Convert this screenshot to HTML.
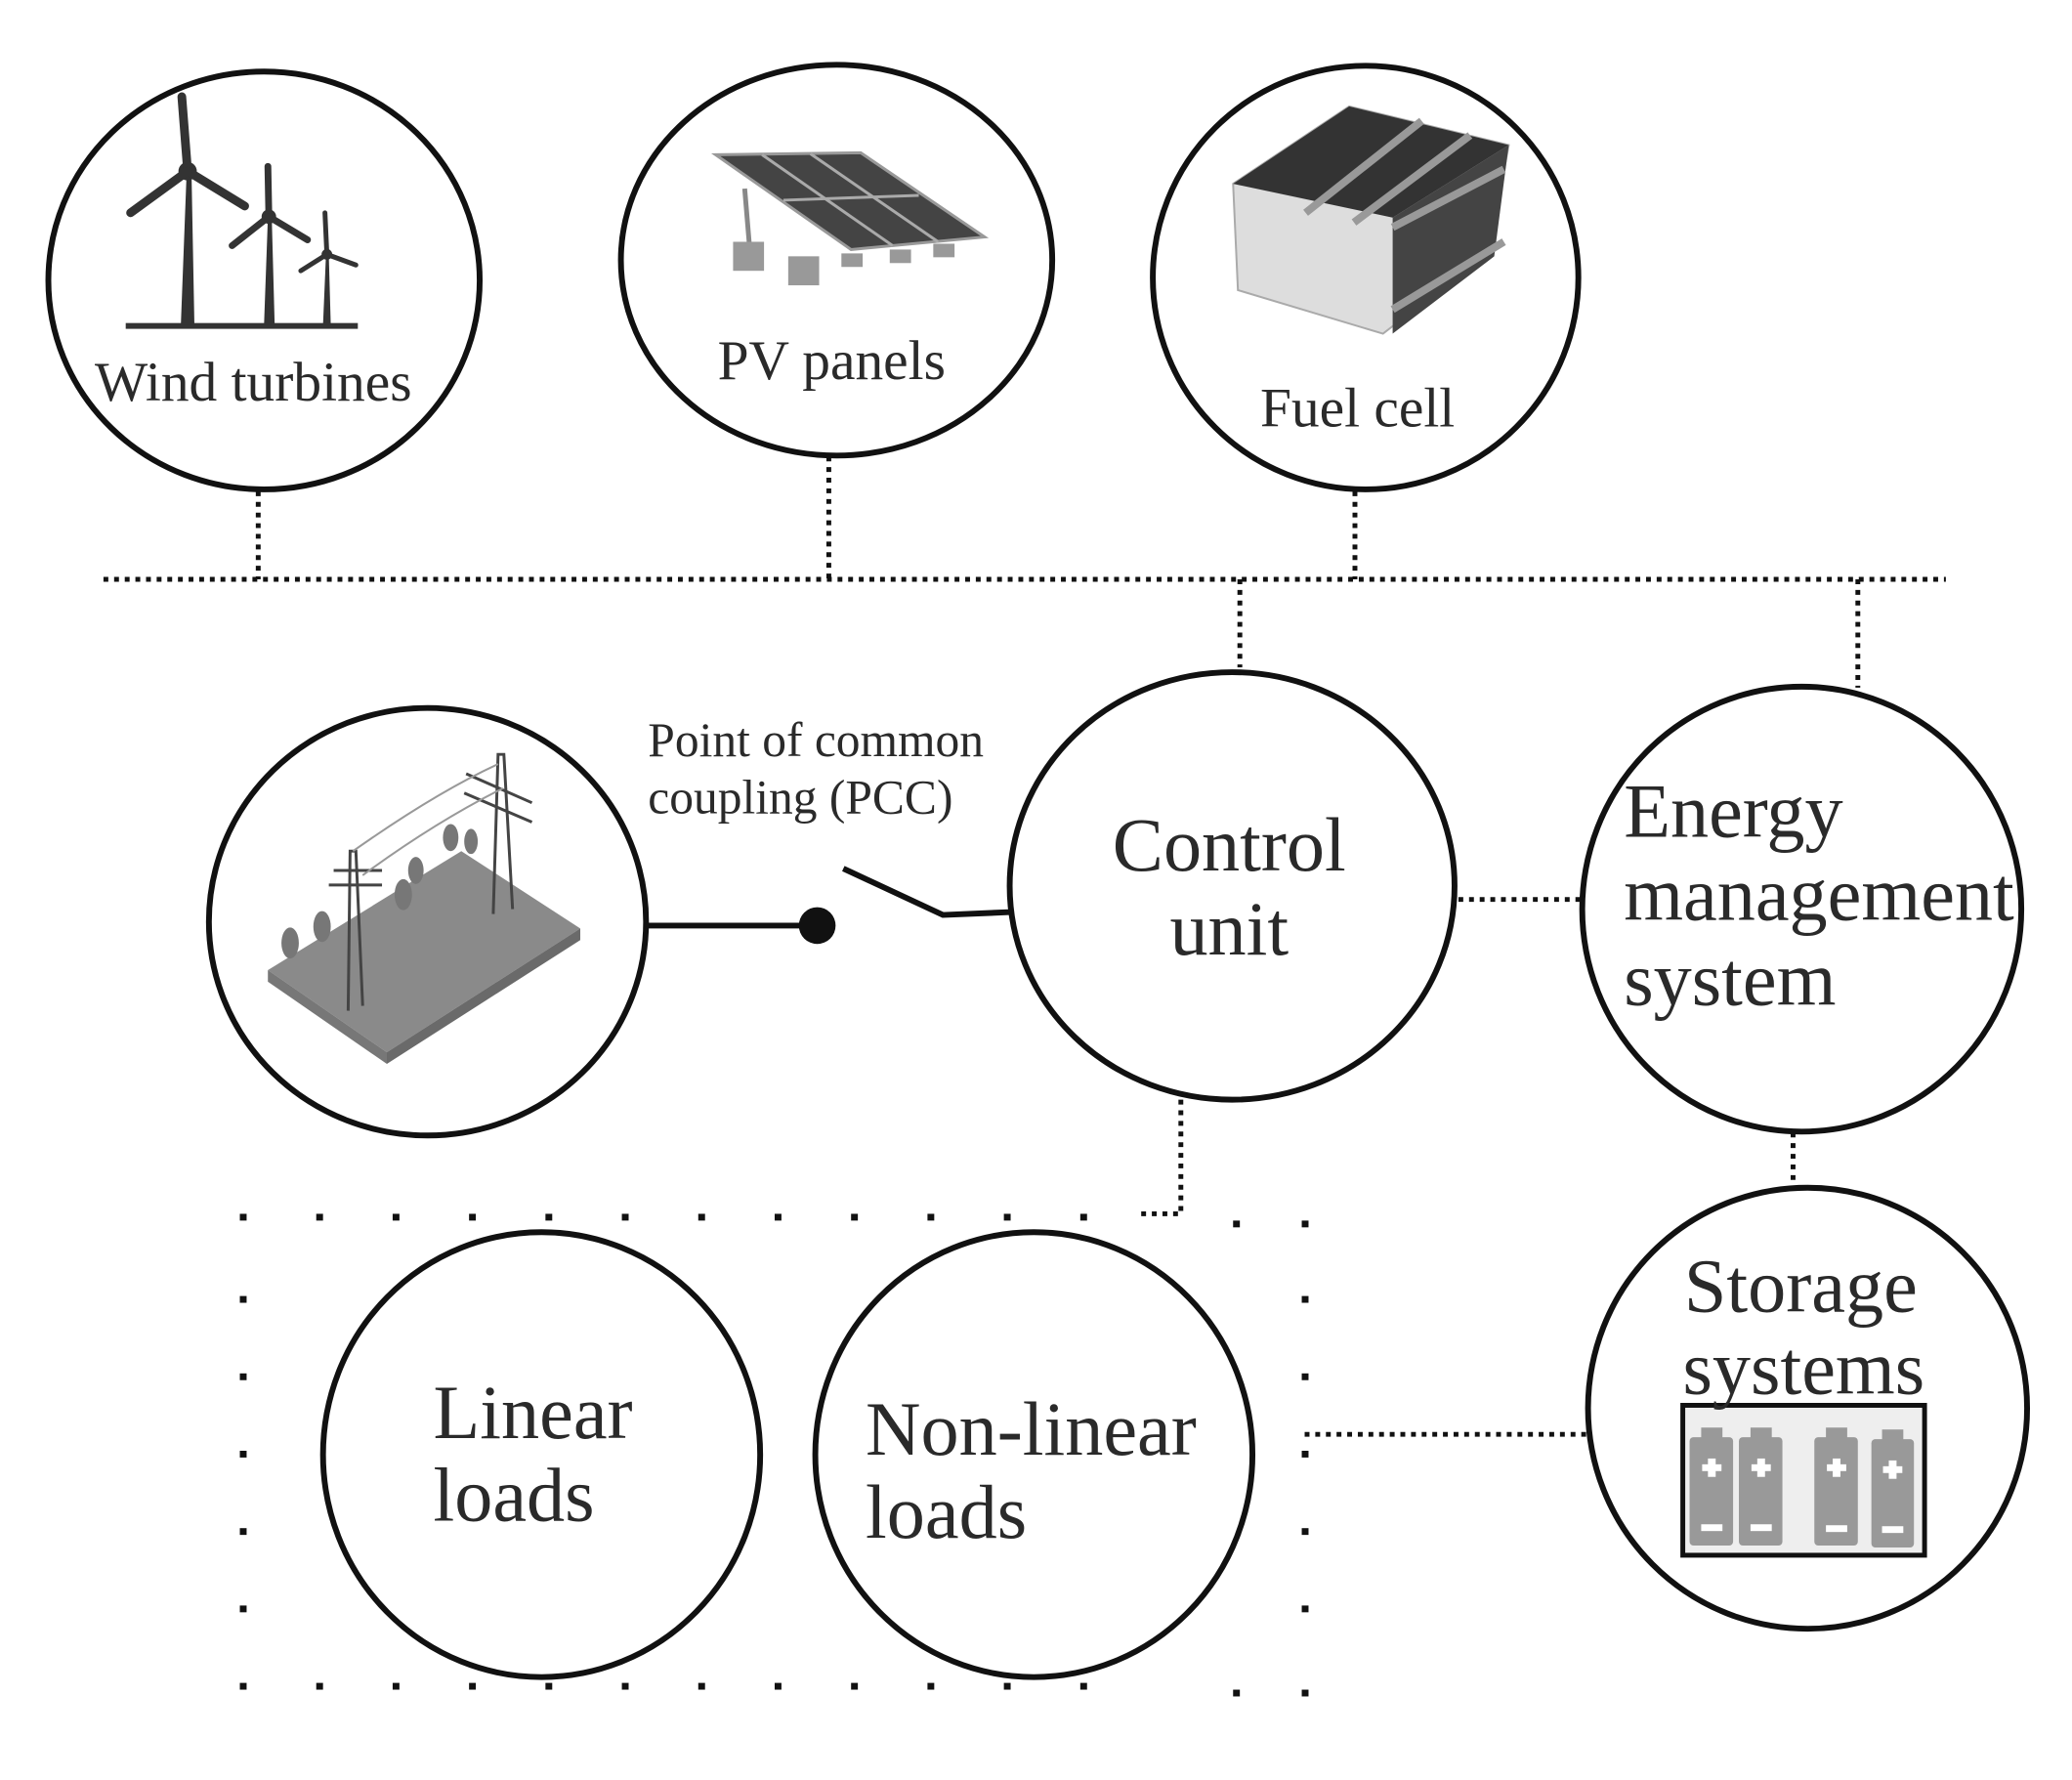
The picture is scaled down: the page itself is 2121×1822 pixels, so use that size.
<!DOCTYPE html>
<html><head><meta charset="utf-8"><style>
html,body{margin:0;padding:0;background:#fff}
svg{display:block}
text{font-family:"Liberation Serif",serif;fill:#2a2a2a}
</style></head><body>
<svg width="2121" height="1822" viewBox="0 0 2121 1822" xmlns="http://www.w3.org/2000/svg">
<g transform="scale(0.99)">
<g stroke="#111" stroke-width="5" fill="none" stroke-dasharray="5 6">
<line x1="107" y1="599" x2="2012" y2="599"/>
<line x1="267" y1="508" x2="267" y2="599"/>
<line x1="857" y1="472" x2="857" y2="599"/>
<line x1="1401" y1="508" x2="1401" y2="599"/>
<line x1="1282" y1="599" x2="1282" y2="690"/>
<line x1="1921" y1="599" x2="1921" y2="711"/>
<line x1="1508" y1="930" x2="1636" y2="930"/>
<line x1="1854" y1="1171" x2="1854" y2="1226"/>
<line x1="1349" y1="1483" x2="1643" y2="1483"/>
<polyline points="1221,1137 1221,1255 1180,1255"/>
</g>
<g fill="#111">
<g id="row">
<rect x="248" y="1255" width="7" height="7"/><rect x="327" y="1255" width="7" height="7"/><rect x="406" y="1255" width="7" height="7"/><rect x="485" y="1255" width="7" height="7"/><rect x="564" y="1255" width="7" height="7"/><rect x="643" y="1255" width="7" height="7"/><rect x="722" y="1255" width="7" height="7"/><rect x="801" y="1255" width="7" height="7"/><rect x="880" y="1255" width="7" height="7"/><rect x="959" y="1255" width="7" height="7"/><rect x="1038" y="1255" width="7" height="7"/><rect x="1117" y="1255" width="7" height="7"/><rect x="1275" y="1262" width="7" height="7"/><rect x="1346" y="1262" width="7" height="7"/>
</g>
<use href="#row" transform="translate(0,485)"/>
<rect x="248" y="1340" width="7" height="7"/><rect x="248" y="1420" width="7" height="7"/><rect x="248" y="1500" width="7" height="7"/><rect x="248" y="1580" width="7" height="7"/><rect x="248" y="1660" width="7" height="7"/>
<rect x="1346" y="1340" width="7" height="7"/><rect x="1346" y="1420" width="7" height="7"/><rect x="1346" y="1500" width="7" height="7"/><rect x="1346" y="1580" width="7" height="7"/><rect x="1346" y="1660" width="7" height="7"/>
</g>
<line x1="670" y1="957" x2="845" y2="957" stroke="#111" stroke-width="6"/>
<circle cx="845" cy="957" r="19" fill="#111"/>
<polyline points="872,898 975,946 1046,943" stroke="#111" stroke-width="6" fill="none"/>
<text x="670" y="782" font-size="50">Point of common</text>
<text x="670" y="841" font-size="50">coupling (PCC)</text>

<g fill="#333" stroke="#333">
<rect x="130" y="334" width="240" height="6" stroke="none"/>
<polygon points="187,336 193,178 198,178 201,336" stroke="none"/>
<polygon points="273,336 277,225 281,225 284,336" stroke="none"/>
<polygon points="334,336 337,265 340,265 342,336" stroke="none"/>
<circle cx="194" cy="177" r="9"/><circle cx="278" cy="224" r="7"/><circle cx="338" cy="263" r="5"/>
<g stroke-width="9" stroke-linecap="round"><line x1="194" y1="177" x2="188" y2="100"/><line x1="194" y1="177" x2="253" y2="213"/><line x1="194" y1="177" x2="135" y2="220"/></g>
<g stroke-width="7" stroke-linecap="round"><line x1="278" y1="224" x2="277" y2="172"/><line x1="278" y1="224" x2="318" y2="248"/><line x1="278" y1="224" x2="240" y2="254"/></g>
<g stroke-width="5" stroke-linecap="round"><line x1="338" y1="263" x2="336" y2="220"/><line x1="338" y1="263" x2="368" y2="274"/><line x1="338" y1="263" x2="311" y2="280"/></g>
</g>
<g>
<polygon points="740,160 890,158 1018,245 880,258" fill="#444" stroke="#999" stroke-width="3"/>
<g stroke="#aaa" stroke-width="3"><line x1="788" y1="160" x2="923" y2="254"/><line x1="838" y1="159" x2="970" y2="250"/><line x1="810" y1="207" x2="950" y2="202"/></g>
<line x1="770" y1="195" x2="775" y2="255" stroke="#888" stroke-width="5"/>
<rect x="758" y="250" width="32" height="30" fill="#999"/><rect x="815" y="265" width="32" height="30" fill="#999"/>
<rect x="870" y="262" width="22" height="14" fill="#999"/><rect x="920" y="258" width="22" height="14" fill="#999"/><rect x="965" y="252" width="22" height="14" fill="#999"/>
</g>
<g>
<polygon points="1275,190 1395,110 1560,150 1540,260 1430,345 1280,300" fill="#ddd" stroke="#aaa" stroke-width="2"/>
<polygon points="1275,190 1395,110 1560,150 1440,225" fill="#333"/>
<polygon points="1440,225 1560,150 1545,265 1440,345" fill="#444"/>
<g stroke="#999" stroke-width="8"><line x1="1350" y1="220" x2="1470" y2="125"/><line x1="1400" y1="230" x2="1520" y2="140"/><line x1="1440" y1="235" x2="1555" y2="175"/><line x1="1440" y1="320" x2="1555" y2="250"/></g>
</g>
<g>
<polygon points="277,1003 477,880 600,960 400,1088" fill="#8a8a8a"/>
<polygon points="277,1003 400,1088 400,1100 277,1015" fill="#777"/>
<polygon points="400,1088 600,960 600,972 400,1100" fill="#6a6a6a"/>
<g stroke="#444" stroke-width="3" fill="none">
<path d="M360,1045 L362,880 L368,880 L375,1040"/><path d="M345,900 L395,900 M340,915 L395,915"/>
<path d="M510,945 L515,780 L521,780 L530,940"/><path d="M482,800 L550,830 M480,820 L550,850"/>
<path d="M365,880 Q450,820 515,790 M375,905 Q450,850 520,815" stroke="#999" stroke-width="2"/>
</g>
<g fill="#777"><ellipse cx="300" cy="975" rx="9" ry="16"/><ellipse cx="333" cy="958" rx="9" ry="16"/><ellipse cx="417" cy="925" rx="9" ry="16"/><ellipse cx="430" cy="900" rx="8" ry="14"/><ellipse cx="466" cy="866" rx="8" ry="14"/><ellipse cx="487" cy="870" rx="7" ry="13"/></g>
</g>
<g transform="translate(14,16)">
<rect x="1726" y="1437" width="250" height="155" fill="#eee" stroke="#111" stroke-width="5"/>
<g fill="#999">
<rect x="1733" y="1470" width="45" height="112" rx="4"/><rect x="1784" y="1470" width="45" height="112" rx="4"/><rect x="1862" y="1470" width="45" height="112" rx="4"/><rect x="1921" y="1472" width="44" height="112" rx="4"/>
<rect x="1745" y="1460" width="22" height="12"/><rect x="1796" y="1460" width="22" height="12"/><rect x="1874" y="1460" width="22" height="12"/><rect x="1932" y="1462" width="22" height="12"/>
</g>
<g fill="#fff">
<rect x="1746" y="1498" width="20" height="7"/><rect x="1752" y="1492" width="8" height="19"/>
<rect x="1797" y="1498" width="20" height="7"/><rect x="1803" y="1492" width="8" height="19"/>
<rect x="1875" y="1498" width="20" height="7"/><rect x="1881" y="1492" width="8" height="19"/>
<rect x="1933" y="1500" width="20" height="7"/><rect x="1939" y="1494" width="8" height="19"/>
<rect x="1745" y="1560" width="22" height="7"/><rect x="1796" y="1560" width="22" height="7"/><rect x="1874" y="1561" width="22" height="7"/><rect x="1932" y="1562" width="22" height="7"/>
</g>
</g>

<g fill="none" stroke="#111" stroke-width="6">
<ellipse cx="273" cy="290" rx="223" ry="216"/>
<ellipse cx="865" cy="269" rx="223" ry="202"/>
<ellipse cx="1412" cy="287" rx="220" ry="219"/>
<ellipse cx="442" cy="953" rx="226" ry="221"/>
<ellipse cx="1274" cy="916" rx="230" ry="221"/>
<ellipse cx="1863" cy="940" rx="227" ry="230"/>
<ellipse cx="1869" cy="1456" rx="227" ry="228"/>
<ellipse cx="560" cy="1504" rx="226" ry="230"/>
<ellipse cx="1069" cy="1504" rx="226" ry="230"/>
</g>

<text x="98" y="414" font-size="58">Wind turbines</text>
<text x="742" y="392" font-size="58">PV panels</text>
<text x="1303" y="441" font-size="58">Fuel cell</text>
<g font-size="79">
<text x="1271" y="900" text-anchor="middle">Control</text>
<text x="1271" y="987" text-anchor="middle">unit</text>
<text x="1679" y="865">Energy</text>
<text x="1679" y="951">management</text>
<text x="1679" y="1039">system</text>
<text x="1862" y="1356" text-anchor="middle">Storage</text>
<text x="1865" y="1441" text-anchor="middle">systems</text>
<text x="448" y="1487">Linear</text>
<text x="448" y="1572">loads</text>
<text x="895" y="1504">Non-linear</text>
<text x="895" y="1590">loads</text>
</g>
</g>
</svg>
</body></html>
